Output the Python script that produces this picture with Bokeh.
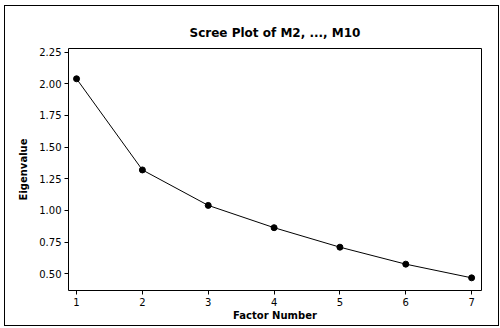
from bokeh.plotting import figure
from bokeh.embed import file_html
from bokeh.resources import INLINE
from bokeh.models import Range1d, FixedTicker

factor = [1, 2, 3, 4, 5, 6, 7]
eigen = [2.04, 1.32, 1.04, 0.864, 0.71, 0.576, 0.468]
yticks = [0.50, 0.75, 1.00, 1.25, 1.50, 1.75, 2.00, 2.25]
ylabels = {0.5: "0.50", 0.75: "0.75", 1.0: "1.00", 1.25: "1.25", 1.5: "1.50", 1.75: "1.75", 2.0: "2.00", 2.25: "2.25"}

FONT = "DejaVu Sans"

p = figure(width=495, height=321, output_backend="svg", toolbar_location=None,
           x_range=Range1d(0.878, 7.15), y_range=Range1d(0.368, 2.279),
           min_border_left=63, min_border_right=19, min_border_top=42, min_border_bottom=37,
           title="Scree Plot of M2, ..., M10")
p.styles = {"border": "1px solid black", "margin-left": "4px", "margin-top": "5px"}

p.title.text_font = FONT
p.title.text_font_size = "12px"
p.title.text_font_style = "bold"
p.title.text_color = "black"
p.title.align = "center"
p.title.offset = -17
p.title.standoff = 17

p.outline_line_color = "black"
p.outline_line_width = 1
p.outline_line_alpha = 1
p.grid.visible = False

p.xaxis.ticker = FixedTicker(ticks=factor)
p.yaxis.ticker = FixedTicker(ticks=yticks)
p.yaxis.major_label_overrides = ylabels
for ax in (p.xaxis[0], p.yaxis[0]):
    ax.axis_line_color = None
    ax.major_tick_line_color = "black"
    ax.major_tick_in = 0
    ax.major_tick_out = 4
    ax.minor_tick_line_color = None
    ax.major_label_text_font = FONT
    ax.major_label_text_font_size = "10px"
    ax.major_label_text_color = "black"
    ax.axis_label_text_font = FONT
    ax.axis_label_text_font_size = "10px"
    ax.axis_label_text_font_style = "bold"
    ax.axis_label_text_color = "black"
    ax.major_label_standoff = 3
p.xaxis.axis_label = "Factor Number"
p.yaxis.axis_label = "Eigenvalue"
p.xaxis.axis_label_standoff = 1
p.yaxis.axis_label_standoff = 7

p.line(factor, eigen, line_color="black", line_width=1)
p.scatter(factor, eigen, size=6, fill_color="black", line_color="black")

open("out.html", "w").write(file_html(p, INLINE))
